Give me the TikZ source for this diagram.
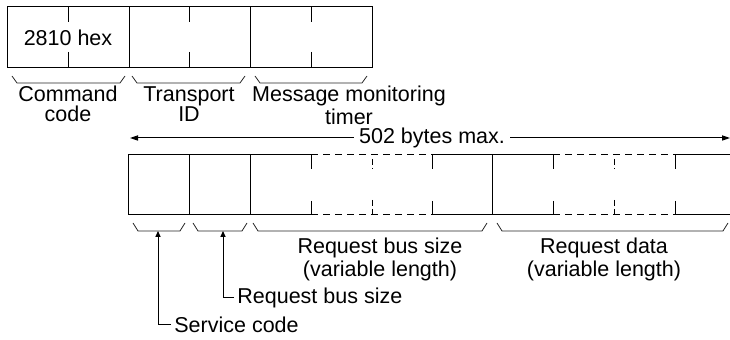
\documentclass[tikz,border=0pt]{standalone}
\usepackage{fontspec}
\setmainfont{Liberation Sans}
\usepackage{tikz}
\usetikzlibrary{positioning, arrows.meta}
\tikzset{
    frame/.style={draw=black, line width=0.5pt},
    tickmark/.style={draw=black, line width=0.5pt},
    gapline/.style={draw=black, line width=0.5pt, dash pattern=on 3.5pt off 2.5pt},
    gaptick/.style={draw=black, line width=0.5pt, dash pattern=on 3pt off 1.5pt},
    bracket/.style={draw=black!85, line width=0.4pt},
    pointer/.style={-{Triangle[length=3pt, width=2.6pt]}, line width=0.5pt}
}

\begin{document}
\begin{tikzpicture}[
    x=0.5pt, y=-0.5pt,
    font=\fontsize{10.75}{10}\selectfont,
    lbl/.style={inner sep=0pt, align=center, anchor=north},
    callout/.style={inner sep=1.5pt, anchor=west},
    span/.style={-{Triangle[length=4pt, width=2.6pt]}, line width=0.5pt}
]
\useasboundingbox (0,0) rectangle (730,340);

% Command frame
\draw[frame] (7,7) rectangle (372,68);
\draw[frame] (129,7) -- (129,68);
\draw[frame] (250,7) -- (250,68);
\foreach \x in {68,189,311} {
    \draw[tickmark] (\x,7) -- (\x,22);
    \draw[tickmark] (\x,52) -- (\x,68);
}
\node (cmdval) at (68,38) {2810 hex};

% Brackets (top)
\foreach \a/\b in {12/125, 132/245, 255/367}
    \draw[bracket] (\a,76) -- (\a+5,83) -- (\b-5,83) -- (\b,76);

\node[lbl] (cmdcode) at (68,86) {Command\\code};
\node[lbl] (transid) at (189,86) {Transport\\ID};
\node[lbl] (monitor) at (349,86) {Message monitoring\\timer};

% Length arrow
\node[fill=white, inner xsep=2.5pt, inner ysep=0.5pt] (maxlen) at (432,138) {502 bytes max.};
\coordinate (lenL) at (130,138);
\coordinate (lenR) at (730,138);
\draw[span] (maxlen.west) -- (lenL);
\draw[span] (maxlen.east) -- (lenR);

% Request frame (solid parts)
\draw[frame] (311,155) -- (128,155) -- (128,215) -- (311,215);
\draw[frame] (189,155) -- (189,215);
\draw[frame] (250,155) -- (250,215);
\draw[frame] (432,155) -- (553,155);
\draw[frame] (432,215) -- (553,215);
\draw[frame] (492,155) -- (492,215);
\draw[frame] (675,155) -- (730,155);
\draw[frame] (675,215) -- (730,215);
\foreach \x in {311,432,553,675} {
    \draw[tickmark] (\x,155) -- (\x,169);
    \draw[tickmark] (\x,201) -- (\x,215);
}

% Request frame (variable parts)
\foreach \a/\b in {311/432, 553/675} {
    \draw[gapline] (\a,155) -- (\b,155);
    \draw[gapline] (\a,215) -- (\b,215);
}
\foreach \x in {372,614} {
    \draw[gaptick] (\x,159) -- (\x,169);
    \draw[gaptick] (\x,200) -- (\x,215);
}

% Brackets (bottom)
\foreach \a/\b in {133/185, 193/247, 253/487, 497/728}
    \draw[bracket] (\a,223) -- (\a+5,231) -- (\b-5,231) -- (\b,223);
\coordinate (svcpt) at (158,231);
\coordinate (rbspt) at (223,231);

\node[lbl] (rbsize) at (380,238) {Request bus size\\(variable length)};
\node[lbl] (rdata) at (604,238) {Request data\\(variable length)};

% Callouts
\node[callout] (rbsname) at (234,298) {Request bus size};
\node[callout] (svcname) at (171,325) {Service code};
\draw[pointer] (rbsname.west) -| (rbspt);
\draw[pointer] (svcname.west) -| (svcpt);

\end{tikzpicture}
\end{document}
